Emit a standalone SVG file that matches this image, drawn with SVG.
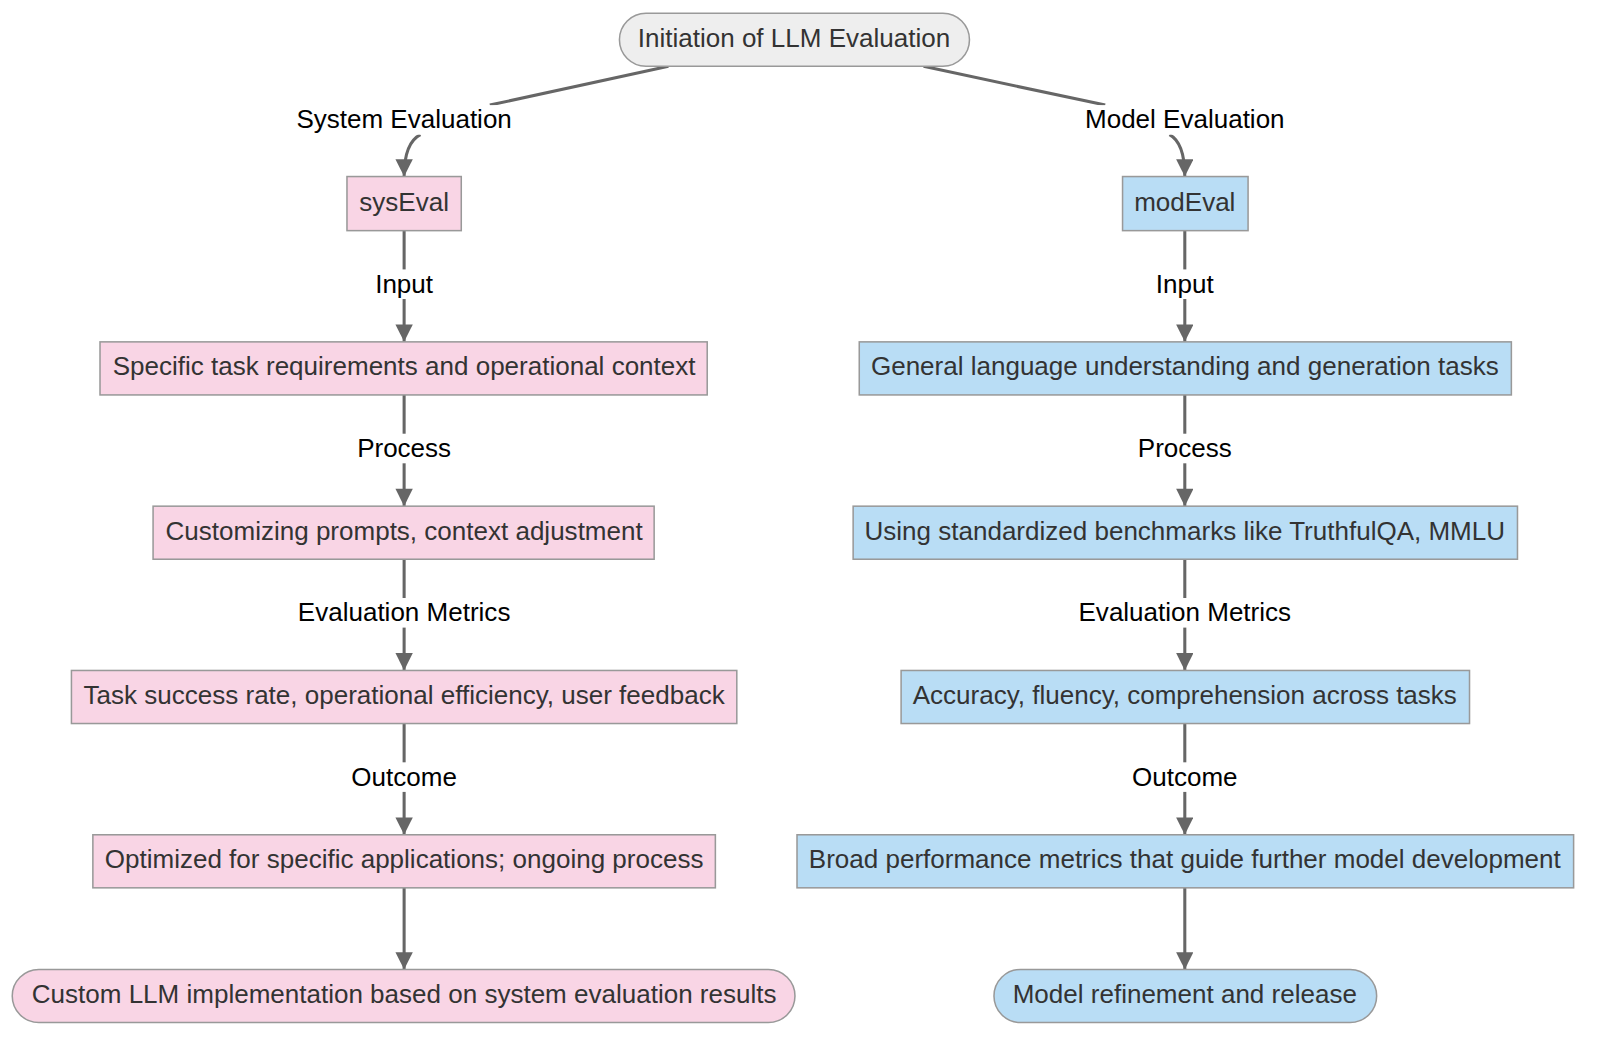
<svg xmlns="http://www.w3.org/2000/svg" width="1600" height="1045" viewBox="0 0 1600 1045">
<style>
text{font-family:"Liberation Sans",Arial,sans-serif;font-size:25.5px;fill:#333;text-anchor:middle;dominant-baseline:central}
.p{fill:#f9d5e5;stroke:#999;stroke-width:1.5}
.b{fill:#b9ddf5;stroke:#999;stroke-width:1.5}
.s{fill:#eeeeee;stroke:#999;stroke-width:1.5}
.e{fill:none;stroke:#666;stroke-width:3;marker-end:url(#a)}
.n{fill:none;stroke:#666;stroke-width:3}
.l{fill:#000}
.lb{fill:#fff}
</style>
<defs><marker id="a" viewBox="0 0 10 10" refX="10" refY="5" markerWidth="18" markerHeight="17" orient="auto" markerUnits="userSpaceOnUse"><path d="M0,0L10,5L0,10z" fill="#666"/></marker></defs>
<rect width="1600" height="1045" fill="#fff"/>
<g transform="scale(1.0205)">
<g id="connectors">
<path class="n" d="M655,65 L480,103"/>
<path class="e" d="M412,132 Q396,140 396,173"/>
<path class="n" d="M905,65 L1083,103"/>
<path class="e" d="M1146,132 Q1161,140 1161,173"/>
<path class="e" d="M396,226 V335"/><path class="e" d="M396,387 V496"/><path class="e" d="M396,548 V657"/><path class="e" d="M396,709 V818"/><path class="e" d="M396,870 V950"/>
<path class="e" d="M1161,226 V335"/><path class="e" d="M1161,387 V496"/><path class="e" d="M1161,548 V657"/><path class="e" d="M1161,709 V818"/><path class="e" d="M1161,870 V950"/>
<rect class="lb" x="288" y="103" width="216" height="29"/><text class="l" x="396" y="117">System Evaluation</text>
<rect class="lb" x="1062" y="103" width="200" height="29"/><text class="l" x="1161" y="117">Model Evaluation</text>
<rect class="lb" x="366" y="264" width="60" height="29"/><text class="l" x="396" y="278">Input</text>
<rect class="lb" x="348" y="425" width="96" height="29"/><text class="l" x="396" y="439">Process</text>
<rect class="lb" x="290" y="586" width="212" height="29"/><text class="l" x="396" y="600">Evaluation Metrics</text>
<rect class="lb" x="343" y="747" width="106" height="29"/><text class="l" x="396" y="761">Outcome</text>
<rect class="lb" x="1131" y="264" width="60" height="29"/><text class="l" x="1161" y="278">Input</text>
<rect class="lb" x="1113" y="425" width="96" height="29"/><text class="l" x="1161" y="439">Process</text>
<rect class="lb" x="1055" y="586" width="212" height="29"/><text class="l" x="1161" y="600">Evaluation Metrics</text>
<rect class="lb" x="1108" y="747" width="106" height="29"/><text class="l" x="1161" y="761">Outcome</text>
</g>
<g id="start"><rect class="s" x="607" y="13" width="343" height="52" rx="26"/><text x="778" y="37">Initiation of LLM Evaluation</text></g>
<g id="sysEval"><rect class="p" x="340" y="173" width="112" height="53"/><text x="396" y="198">sysEval</text></g>
<g id="s1"><rect class="p" x="98" y="335" width="595" height="52"/><text x="396" y="359">Specific task requirements and operational context</text></g>
<g id="s2"><rect class="p" x="150" y="496" width="491" height="52"/><text x="396" y="520">Customizing prompts, context adjustment</text></g>
<g id="s3"><rect class="p" x="70" y="657" width="652" height="52"/><text x="396" y="681">Task success rate, operational efficiency, user feedback</text></g>
<g id="s4"><rect class="p" x="91" y="818" width="610" height="52"/><text x="396" y="842">Optimized for specific applications; ongoing process</text></g>
<g id="s5"><rect class="p" x="12" y="950" width="767" height="52" rx="26"/><text x="396" y="974">Custom LLM implementation based on system evaluation results</text></g>
<g id="modEval"><rect class="b" x="1100" y="173" width="123" height="53"/><text x="1161" y="198">modEval</text></g>
<g id="m1"><rect class="b" x="842" y="335" width="639" height="52"/><text x="1161" y="359">General language understanding and generation tasks</text></g>
<g id="m2"><rect class="b" x="836" y="496" width="651" height="52"/><text x="1161" y="520">Using standardized benchmarks like TruthfulQA, MMLU</text></g>
<g id="m3"><rect class="b" x="883" y="657" width="557" height="52"/><text x="1161" y="681">Accuracy, fluency, comprehension across tasks</text></g>
<g id="m4"><rect class="b" x="781" y="818" width="761" height="52"/><text x="1161" y="842">Broad performance metrics that guide further model development</text></g>
<g id="m5"><rect class="b" x="974" y="950" width="375" height="52" rx="26"/><text x="1161" y="974">Model refinement and release</text></g>
</g>
</svg>
